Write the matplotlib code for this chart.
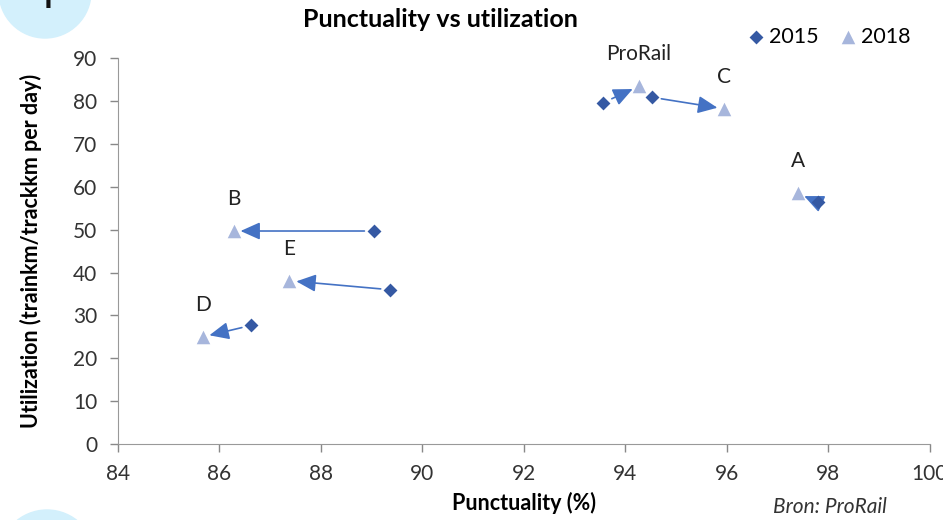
import matplotlib
matplotlib.use("Agg")
import matplotlib.pyplot as plt
from matplotlib.patches import Ellipse

labels = ["ProRail", "C", "A", "B", "E", "D"]
punct_2015 = [93.56, 94.52, 97.80, 89.05, 89.37, 86.63]
util_2015 = [79.6, 80.9, 56.4, 49.7, 36.0, 27.7]
punct_2018 = [94.27, 95.95, 97.40, 86.28, 87.38, 85.67]
util_2018 = [83.5, 78.2, 58.5, 49.7, 38.1, 25.0]
xticks = [84, 86, 88, 90, 92, 94, 96, 98, 100]
yticks = [0, 10, 20, 30, 40, 50, 60, 70, 80, 90]

plt.rcParams['font.family'] = ['Lato', 'DejaVu Sans']

W, H = 943, 520
fig = plt.figure(figsize=(W / 100, H / 100), dpi=100)
ax = fig.add_axes([0.125, 0.146, 0.861, 0.742])

c15 = '#3559a3'
c18 = '#a7b6dc'
carrow = '#4472c4'

ax.scatter(punct_2015, util_2015, marker='D', s=50, color=c15, zorder=3, label='2015', linewidths=0)
ax.scatter(punct_2018, util_2018, marker='^', s=95, color=c18, zorder=3, label='2018', linewidths=0)

for x0, y0, x1, y1 in zip(punct_2015, util_2015, punct_2018, util_2018):
    ax.annotate('', xy=(x1, y1), xytext=(x0, y0),
                arrowprops=dict(arrowstyle='-|>,head_length=0.85,head_width=0.38', color=carrow, lw=1.2,
                                mutation_scale=14, shrinkA=7, shrinkB=5), zorder=2)

for lab, x, y in zip(labels, punct_2018, util_2018):
    ax.annotate(lab, xy=(x, y), xytext=(0, 23), textcoords='offset points',
                ha='center', va='center', fontsize=15, color='#222222')

ax.set_xlim(84, 100)
ax.set_ylim(0, 90)
ax.set_xticks(xticks)
ax.set_yticks(yticks)
ax.tick_params(axis='both', labelsize=15, colors='#888888', labelcolor='#333333',
               length=6, width=1, direction='out')
ax.tick_params(axis='x', pad=8)
ax.tick_params(axis='y', pad=9)
for s in ['top', 'right']:
    ax.spines[s].set_visible(False)
for s in ['left', 'bottom']:
    ax.spines[s].set_color('#999999')

ax.set_xlabel('Punctuality (%)', fontsize=15.5, fontweight='bold', labelpad=6)
ax.set_ylabel('Utilization (trainkm/trackkm per day)', fontsize=15.5, fontweight='bold', labelpad=22)

fig.text(0.467, 0.963, 'Punctuality vs utilization', ha='center', va='center',
         fontsize=18, fontweight='bold')
fig.text(0.94, 0.025, 'Bron: ProRail', ha='right', va='center', fontsize=15,
         style='italic', color='#333333')

leg = ax.legend(loc='upper right', bbox_to_anchor=(0.975, 0.965), bbox_transform=fig.transFigure,
                ncol=2, frameon=False, fontsize=15.5, handletextpad=0.1, columnspacing=0.9,
                handlelength=1.0, borderaxespad=0)

fig.patches.append(Ellipse((45 / W, 1 + 8 / H), 92 / W, 92 / H, transform=fig.transFigure,
                           color='#d3f0fc', zorder=0, figure=fig))
fig.patches.append(Ellipse((47 / W, -38 / H), 96 / W, 96 / H, transform=fig.transFigure,
                           color='#d3f0fc', zorder=0, figure=fig))
fig.text(46 / W, 1 - 8 / H, '1', ha='center', va='baseline', fontsize=20, fontweight='bold',
         color='#111111', family=['Open Sans', 'DejaVu Sans'])

fig.savefig('out.png', dpi=100)
